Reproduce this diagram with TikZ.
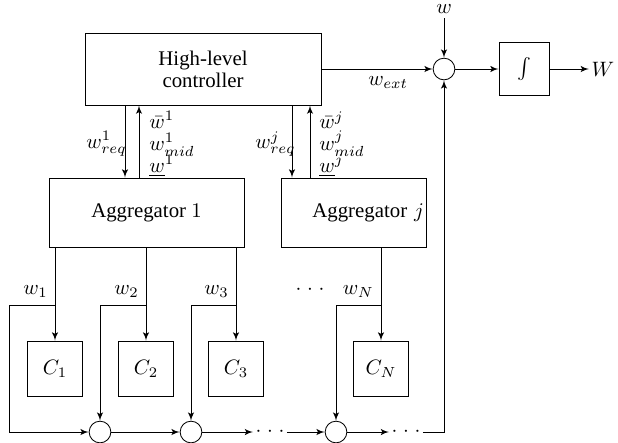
\documentclass[tikz,border=0pt]{standalone}
\usepackage{amsmath}
\usepackage{amssymb}
\usepackage{fontspec}
\setmainfont{Liberation Serif}
\usetikzlibrary{arrows}
\tikzset{block/.style = {shape = rectangle, draw, inner sep = 1pt}}
\tikzset{adder/.style = {shape = circle, draw, minimum size = 10.4pt, inner sep = 0pt}}
\tikzset{gap/.style = {inner sep = 1pt}}
\tikzset{edge/.style = {->,> = latex'}}

\begin{document}
\begin{tikzpicture}[x = 0.48pt, y = -0.48pt]
			\useasboundingbox (0, 0) rectangle (618, 442);

			\node[block, minimum width = 113.3pt, minimum height = 34.6pt, align = center] (hlc) at (203, 69) {High-level\\[-1.5pt]controller};
			\node[adder] (s0) at (444, 69) {};
			\node[block, minimum width = 24pt, minimum height = 25.4pt] (int) at (524, 69) {$\int$};
			\node[anchor = west, inner sep = 1pt] (W) at (589, 69) {$W$};
			\node[inner sep = 2pt] (w) at (444, 9) {$w$};

			\node[block, minimum width = 93.6pt, minimum height = 33.1pt] (agg1) at (146.5, 212.5) {Aggregator $1$};
			\node[block, minimum width = 69.6pt, minimum height = 33.1pt, text width = 67.6pt, align = right] (aggj) at (353.5, 212.5) {Aggregator $j$};

			\node[block, minimum size = 26.4pt] (c1) at (55, 368.5) {$C_1$};
			\node[block, minimum size = 26.4pt] (c2) at (146, 368.5) {$C_2$};
			\node[block, minimum size = 26.4pt] (c3) at (236, 368.5) {$C_3$};
			\node[block, minimum size = 26.4pt] (cN) at (381, 368.5) {$C_N$};

			\node[adder] (s1) at (100, 432) {};
			\node[adder] (s2) at (191, 432) {};
			\node[adder] (sN) at (336, 432) {};
			\node[gap] (d1) at (270, 432) {${\cdot}\;{\cdot}\;{\cdot}$};
			\node[gap] (d2) at (406, 432) {${\cdot}\;{\cdot}\;{\cdot}$};
			\node[gap] (dtop) at (310, 290) {${\cdot}\;{\cdot}\;{\cdot}$};

			\coordinate (q1) at (125, 0);
			\coordinate (p1) at (139, 0);
			\coordinate (qj) at (292, 0);
			\coordinate (pj) at (310, 0);
			\coordinate (b1) at (55, 305);
			\coordinate (b2) at (146, 305);
			\coordinate (b3) at (236, 305);
			\coordinate (bN) at (381, 305);
			\coordinate (l1) at (9, 305);

			\node[anchor = east, inner sep = 0pt] (lreq1) at (127, 144) {$w^1_{req}$};
			\node[anchor = west, inner sep = 0pt, align = left] (lmid1) at (149, 144) {$\bar{w}^1$\\[-1.5pt]$w^1_{mid}$\\[-1.5pt]$\underline{w}^1$};
			\node[anchor = east, inner sep = 0pt] (lreqj) at (296, 144) {$w^j_{req}$};
			\node[anchor = west, inner sep = 0pt, align = left] (lmidj) at (319, 144) {$\bar{w}^j$\\[-1.5pt]$w^j_{mid}$\\[-1.5pt]$\underline{w}^j$};

			\node[above left] (lw1) at (b1) {$w_1$};
			\node[above left] (lw2) at (b2) {$w_2$};
			\node[above left] (lw3) at (b3) {$w_3$};
			\node[above left] (lwN) at (bN) {$w_N$};

			\draw[edge] (w) to (s0);
			\draw[edge] (hlc) to node[below, pos = 0.6] (lwext) {$w_{ext}$} (s0);
			\draw[edge] (s0) to (int);
			\draw[edge] (int) to (W);

			\draw[edge] (hlc.south -| q1) to (agg1.north -| q1);
			\draw[edge] (agg1.north -| p1) to (hlc.south -| p1);
			\draw[edge] (hlc.south -| qj) to (aggj.north -| qj);
			\draw[edge] (aggj.north -| pj) to (hlc.south -| pj);

			\draw[edge] (agg1.south -| c1) to (c1);
			\draw[edge] (agg1.south -| c2) to (c2);
			\draw[edge] (agg1.south -| c3) to (c3);
			\draw[edge] (aggj.south -| cN) to (cN);

			\draw[edge] (b1) -- (l1) |- (s1);
			\draw[edge] (b2) -| (s1);
			\draw[edge] (b3) -| (s2);
			\draw[edge] (bN) -| (sN);

			\draw[edge] (s1) to (s2);
			\draw[edge] (s2) to (d1);
			\draw[edge] (d1) to (sN);
			\draw[edge] (sN) to (d2);
			\draw[edge] (d2) -| (s0);
		\end{tikzpicture}
\end{document}
